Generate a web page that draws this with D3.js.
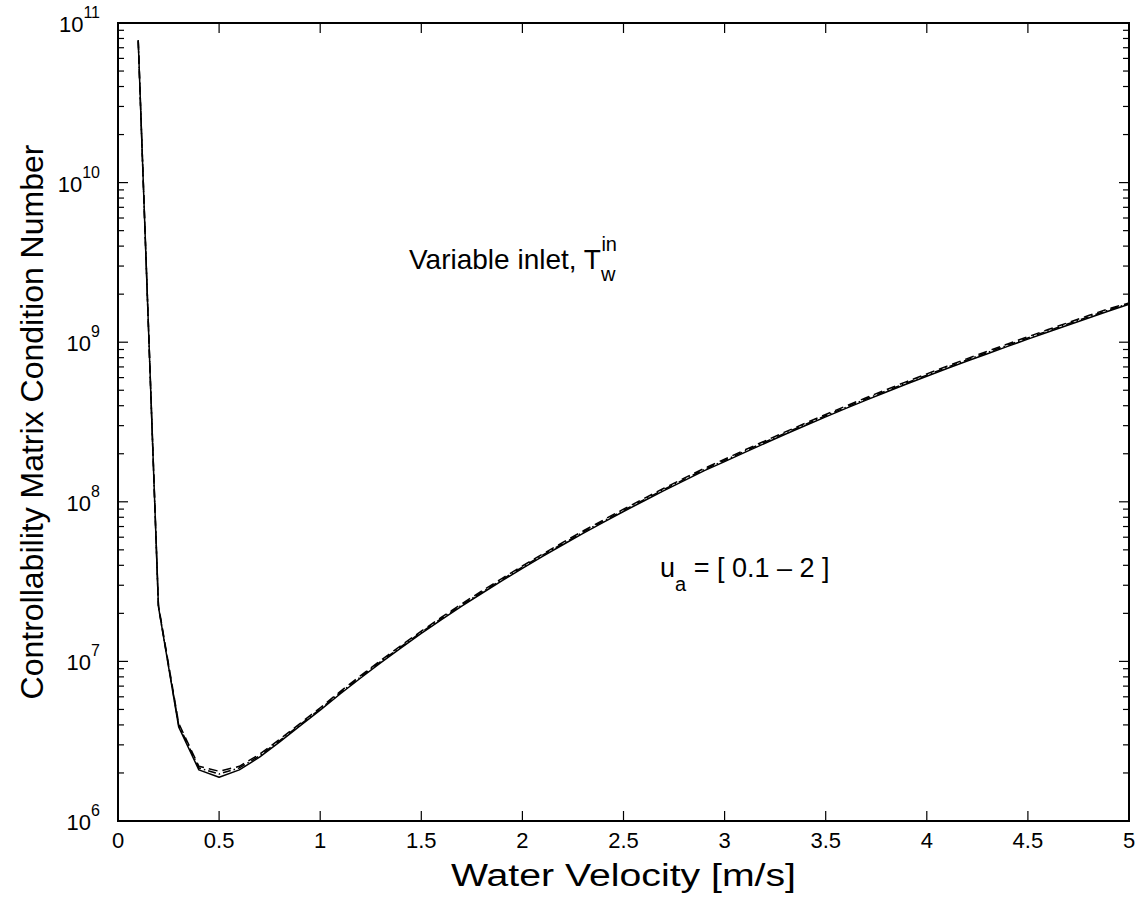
<!DOCTYPE html>
<html>
<head>
<meta charset="utf-8">
<script src="https://cdn.jsdelivr.net/npm/d3@7"></script>
<style>
  body { margin: 0; background: #fff; }
  text { font-family: "Liberation Sans", Arial, sans-serif; fill: #000; }
</style>
</head>
<body>
<svg id="chart" width="1145" height="911"></svg>
<script>
// water velocity [m/s]
const velocity = [0.1, 0.2, 0.3, 0.4, 0.5, 0.6, 0.7, 0.8, 0.9, 1.0,
  1.1, 1.2, 1.3, 1.4, 1.5, 1.6, 1.7, 1.8, 1.9, 2.0,
  2.1, 2.2, 2.3, 2.4, 2.5, 2.6, 2.7, 2.8, 2.9, 3.0,
  3.1, 3.2, 3.3, 3.4, 3.5, 3.6, 3.7, 3.8, 3.9, 4.0,
  4.1, 4.2, 4.3, 4.4, 4.5, 4.6, 4.7, 4.8, 4.9, 5.0];

// condition number, solid curve
const condSolid = [7.8e10, 2.2e7, 3.89e6, 2.09e6, 1.88e6, 2.09e6, 2.51e6, 3.13e6, 3.94e6, 4.95e6,
  6.27e6, 7.87e6, 9.82e6, 1.216e7, 1.496e7, 1.828e7, 2.218e7, 2.673e7, 3.206e7, 3.83e7,
  4.55e7, 5.38e7, 6.34e7, 7.43e7, 8.69e7, 1.012e8, 1.175e8, 1.358e8, 1.567e8, 1.786e8,
  2.042e8, 2.328e8, 2.649e8, 3.006e8, 3.404e8, 3.846e8, 4.335e8, 4.875e8, 5.47e8, 6.12e8,
  6.84e8, 7.62e8, 8.47e8, 9.42e8, 1.045e9, 1.159e9, 1.282e9, 1.419e9, 1.567e9, 1.73e9];

// dashed curve
const condDashed = [7.7e10, 2.25e7, 4.1e6, 2.2e6, 2.05e6, 2.2e6, 2.62e6, 3.25e6, 4.08e6, 5.12e6,
  6.49e6, 8.15e6, 1.016e7, 1.259e7, 1.548e7, 1.892e7, 2.296e7, 2.767e7, 3.318e7, 3.96e7,
  4.71e7, 5.57e7, 6.56e7, 7.69e7, 8.99e7, 1.047e8, 1.216e8, 1.406e8, 1.622e8, 1.849e8,
  2.113e8, 2.409e8, 2.742e8, 3.111e8, 3.523e8, 3.981e8, 4.487e8, 5.046e8, 5.66e8, 6.33e8,
  7.08e8, 7.89e8, 8.77e8, 9.75e8, 1.082e9, 1.2e9, 1.327e9, 1.469e9, 1.622e9, 1.76e9];

// dash-dot curve
const condDashDot = [7.8e10, 2.2e7, 4.0e6, 2.15e6, 1.97e6, 2.15e6, 2.56e6, 3.19e6, 4.01e6, 5.03e6,
  6.38e6, 8.0e6, 9.99e6, 1.237e7, 1.521e7, 1.859e7, 2.256e7, 2.718e7, 3.26e7, 3.9e7,
  4.63e7, 5.47e7, 6.45e7, 7.56e7, 8.84e7, 1.029e8, 1.195e8, 1.381e8, 1.594e8, 1.816e8,
  2.077e8, 2.368e8, 2.694e8, 3.057e8, 3.462e8, 3.911e8, 4.409e8, 4.958e8, 5.56e8, 6.22e8,
  6.96e8, 7.75e8, 8.61e8, 9.58e8, 1.063e9, 1.179e9, 1.304e9, 1.443e9, 1.594e9, 1.745e9];

const xTicks = [0, 0.5, 1, 1.5, 2, 2.5, 3, 3.5, 4, 4.5, 5];
const yExponents = [6, 7, 8, 9, 10, 11];

const svg = d3.select("#chart"),
  margin = { top: 23, right: 16, bottom: 90, left: 118 },
  width = +svg.attr("width") - margin.left - margin.right,
  height = +svg.attr("height") - margin.top - margin.bottom;

const g = svg.append("g")
  .attr("transform", "translate(" + margin.left + "," + margin.top + ")");

const x = d3.scaleLinear().domain([0, 5]).range([0, width]);
const y = d3.scaleLog().domain([1e6, 1e11]).range([height, 0]);

// minor log ticks
const minor = [];
yExponents.slice(0, -1).forEach(e => {
  for (let k = 2; k <= 9; k++) minor.push(k * Math.pow(10, e));
});

// box
g.append("rect")
  .attr("width", width).attr("height", height)
  .attr("fill", "none").attr("stroke", "#000").attr("stroke-width", 2);

// x ticks (inward, bottom and top)
xTicks.forEach(t => {
  g.append("line").attr("x1", x(t)).attr("x2", x(t))
    .attr("y1", height).attr("y2", height - 10).attr("stroke", "#000").attr("stroke-width", 1.2);
  g.append("line").attr("x1", x(t)).attr("x2", x(t))
    .attr("y1", 0).attr("y2", 10).attr("stroke", "#000").attr("stroke-width", 1.2);
  g.append("text")
    .attr("x", x(t)).attr("y", height + 27)
    .attr("text-anchor", "middle").attr("font-size", 22)
    .text(t);
});

// y ticks, major and minor, both sides
yExponents.forEach(e => {
  const v = Math.pow(10, e);
  g.append("line").attr("x1", 0).attr("x2", 10).attr("y1", y(v)).attr("y2", y(v))
    .attr("stroke", "#000").attr("stroke-width", 1.2);
  g.append("line").attr("x1", width).attr("x2", width - 10).attr("y1", y(v)).attr("y2", y(v))
    .attr("stroke", "#000").attr("stroke-width", 1.2);
  const lab = g.append("text")
    .attr("x", -18).attr("y", y(v) + 9)
    .attr("text-anchor", "end").attr("font-size", 22);
  lab.append("tspan").text("10");
  lab.append("tspan").attr("dy", -14).attr("font-size", 16).text(e);
});
minor.forEach(v => {
  g.append("line").attr("x1", 0).attr("x2", 6).attr("y1", y(v)).attr("y2", y(v))
    .attr("stroke", "#000").attr("stroke-width", 1.2);
  g.append("line").attr("x1", width).attr("x2", width - 6).attr("y1", y(v)).attr("y2", y(v))
    .attr("stroke", "#000").attr("stroke-width", 1.2);
});

// curves
const series = [
  { values: condDashDot, dash: "8,3,1.5,3" },
  { values: condDashed, dash: "9,5" },
  { values: condSolid, dash: null }
];

const line = d3.line()
  .x(d => x(d[0]))
  .y(d => y(d[1]));

series.forEach(s => {
  g.append("path")
    .datum(velocity.map((v, i) => [v, s.values[i]]))
    .attr("fill", "none")
    .attr("stroke", "#000")
    .attr("stroke-width", 1.5)
    .attr("stroke-linejoin", "round")
    .attr("stroke-dasharray", s.dash)
    .attr("d", line);
});

// axis labels
svg.append("text")
  .attr("x", margin.left + width / 2).attr("y", 886)
  .attr("text-anchor", "middle").attr("font-size", 31)
  .attr("textLength", 345).attr("lengthAdjust", "spacingAndGlyphs")
  .text("Water Velocity [m/s]");

svg.append("text")
  .attr("transform", "translate(43," + (margin.top + height / 2) + ") rotate(-90)")
  .attr("text-anchor", "middle").attr("font-size", 32)
  .text("Controllability Matrix Condition Number");

// annotations
const a1 = svg.append("text").attr("x", 409).attr("y", 269).attr("font-size", 28);
a1.append("tspan").text("Variable inlet, T");
a1.append("tspan").attr("dy", 12).attr("font-size", 20).text("w");
a1.append("tspan").attr("dx", -14).attr("dy", -30).attr("font-size", 20).text("in");

const a2 = svg.append("text").attr("x", 660).attr("y", 577).attr("font-size", 27);
a2.append("tspan").text("u");
a2.append("tspan").attr("dy", 14).attr("font-size", 20).text("a");
a2.append("tspan").attr("dy", -14).text(" = [ 0.1 \u2013 2 ]");
</script>
</body>
</html>
